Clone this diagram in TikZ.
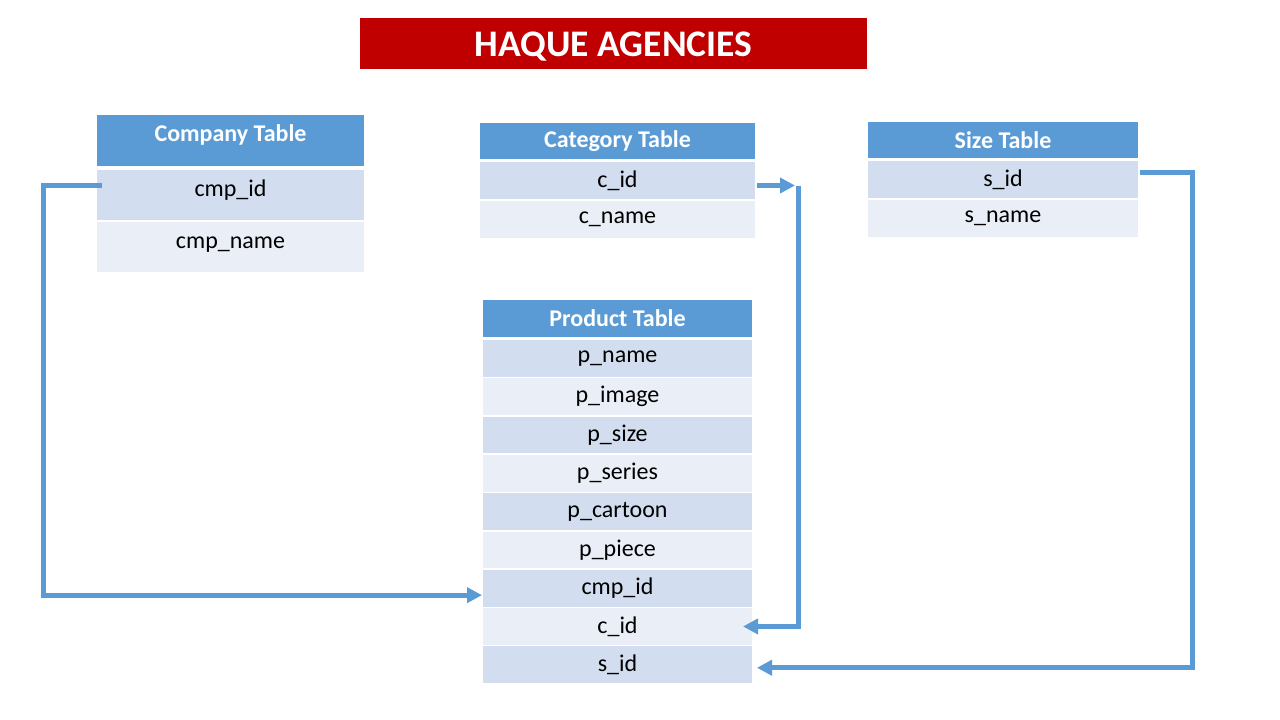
\documentclass[tikz,border=0pt]{standalone}
\usepackage{fontspec}
\setmainfont{Carlito}
\usetikzlibrary{arrows.meta}
\definecolor{hdrblue}{HTML}{5B9BD5}
\definecolor{rowdark}{HTML}{D2DEEF}
\definecolor{rowlight}{HTML}{EAEFF7}
\definecolor{titlered}{HTML}{C00000}
\begin{document}
\begin{tikzpicture}[x=1pt,y=-1pt,
 cell/.style={anchor=north west, inner sep=0pt, outer sep=0pt, font=\fontsize{24}{28}\selectfont},
 hdr/.style={cell, fill=hdrblue, text=white, font=\fontsize{24}{28}\selectfont\bfseries},
 rowd/.style={cell, fill=rowdark},
 rowl/.style={cell, fill=rowlight},
 comp/.style={minimum width=267pt, text height=17pt, text depth=15pt},
 cat/.style={minimum width=275pt},
 siz/.style={minimum width=270pt},
 prod/.style={minimum width=269pt},
 link/.style={draw=hdrblue, line width=5pt},
 tip/.style={-{Triangle[length=15pt,width=15pt]}}
]
\useasboundingbox[fill=white] (0,0) rectangle (1280,720);

% title
\node[cell, fill=titlered, text=white, minimum width=507pt, minimum height=51pt,
  text height=28pt, text depth=2pt,
  font=\fontsize{37.5}{42}\selectfont\bfseries] (title) at (360,18) {HAQUE AGENCIES};

% company table
\node[hdr, comp, minimum height=51pt] (comph) at (97,115) {Company Table};
\node[rowd, comp, minimum height=50pt] (cmpid) at (97,170) {cmp\_id};
\node[rowl, comp, minimum height=50pt] (cmpname) at (97,222) {cmp\_name};

% category table
\node[hdr, cat, minimum height=36pt] (cath) at (480,123) {Category Table};
\node[rowd, cat, minimum height=37pt] (cid) at (480,162) {c\_id};
\node[rowl, cat, minimum height=37pt] (cname) at (480,201) {c\_name};

% size table
\node[hdr, siz, minimum height=36pt] (sizh) at (868,122) {Size Table};
\node[rowd, siz, minimum height=37pt] (sid) at (868,161) {s\_id};
\node[rowl, siz, minimum height=37pt] (sname) at (868,200) {s\_name};

% product table
\node[hdr, prod, minimum height=37pt] (prodh) at (483,300) {Product Table};
\node[rowd, prod, minimum height=36.7pt] (pname) at (483,340) {p\_name};
\node[rowl, prod, minimum height=36.7pt] (pimage) at (483,378.3) {p\_image};
\node[rowd, prod, minimum height=36.7pt] (psize) at (483,416.6) {p\_size};
\node[rowl, prod, minimum height=36.7pt] (pseries) at (483,454.9) {p\_series};
\node[rowd, prod, minimum height=36.7pt] (pcartoon) at (483,493.2) {p\_cartoon};
\node[rowl, prod, minimum height=36.7pt] (ppiece) at (483,531.5) {p\_piece};
\node[rowd, prod, minimum height=36.7pt] (pcmp) at (483,569.8) {cmp\_id};
\node[rowl, prod, minimum height=36.7pt] (pcid) at (483,608.1) {c\_id};
\node[rowd, prod, minimum height=36.7pt] (psid) at (483,646.4) {s\_id};

% connectors
\draw[link, tip] ([xshift=5pt,yshift=10pt]cmpid.west) -- ++(-59,0) |- ([xshift=-1pt,yshift=-7pt]pcmp.west);

\coordinate (catop) at ([xshift=43pt,yshift=-5pt]cid.east);
\draw[link, tip] ([xshift=2pt,yshift=-5pt]cid.east) -- ([xshift=-3pt]catop);
\draw[link, tip] (catop) |- ([xshift=-9pt]pcid.east);

\draw[link, tip] ([xshift=2pt,yshift=7pt]sid.east) -- ++(52,0) |- ([xshift=5pt,yshift=-3pt]psid.east);
\end{tikzpicture}
\end{document}
